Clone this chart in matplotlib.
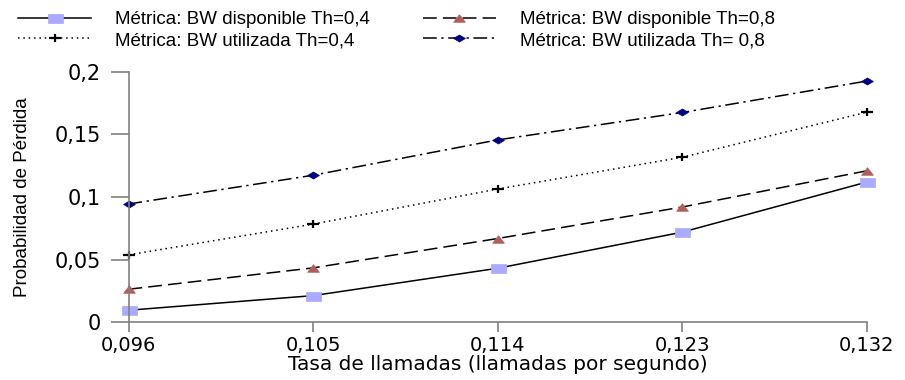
import matplotlib
matplotlib.use('Agg')
import matplotlib.pyplot as plt
from matplotlib.path import Path
from matplotlib import font_manager

# data
tasa = [0.096, 0.105, 0.114, 0.123, 0.132]
tasa_labels = ['0,096', '0,105', '0,114', '0,123', '0,132']
y_ticks = [0, 0.05, 0.1, 0.15, 0.2]
y_labels = ['0', '0,05', '0,1', '0,15', '0,2']

disp_04 = [0.0094, 0.0211, 0.0430, 0.0719, 0.1120]
disp_08 = [0.0262, 0.0433, 0.0668, 0.0920, 0.1210]
util_04 = [0.0537, 0.0783, 0.1064, 0.1318, 0.1679]
util_08 = [0.0944, 0.1174, 0.1457, 0.1676, 0.1928]

names = ['Métrica: BW disponible Th=0,4', 'Métrica: BW utilizada Th=0,4',
         'Métrica: BW disponible Th=0,8', 'Métrica: BW utilizada Th= 0,8']

# wide (stretched) marker shapes like the original
rect = Path([(-0.5, -0.3), (0.5, -0.3), (0.5, 0.3), (-0.5, 0.3), (-0.5, -0.3)],
            [Path.MOVETO, Path.LINETO, Path.LINETO, Path.LINETO, Path.CLOSEPOLY])
tri = Path([(-0.5, -0.32), (0.5, -0.32), (0, 0.32), (-0.5, -0.32)],
           [Path.MOVETO, Path.LINETO, Path.LINETO, Path.CLOSEPOLY])
diam = Path([(-0.5, 0), (0, 0.3), (0.5, 0), (0, -0.3), (-0.5, 0)],
            [Path.MOVETO, Path.LINETO, Path.LINETO, Path.LINETO, Path.CLOSEPOLY])
plus = Path([(-0.5, 0), (0.5, 0), (0, -0.38), (0, 0.38)],
            [Path.MOVETO, Path.LINETO, Path.MOVETO, Path.LINETO])

try:
    font_manager.findfont('Liberation Sans Narrow', fallback_to_default=False)
    ylab_font, ylab_size = 'Liberation Sans Narrow', 16
except Exception:
    ylab_font, ylab_size = 'Liberation Sans', 13.5

fig = plt.figure(figsize=(9.05, 3.8), dpi=100)
fig.patch.set_facecolor('white')
ax = fig.add_axes([128.5/905, 58/380, 738.5/905, 250/380])

l1, = ax.plot(tasa, disp_04, color='black', lw=1.1, ls='-',
              marker=rect, ms=10.8, mfc='#AAAAFF', mec='#AAAAFF', mew=0.5, clip_on=False)
l3, = ax.plot(tasa, disp_08, color='black', lw=1.1, ls=(0, (9, 4)),
              marker=tri, ms=8.5, mfc='#B15D5A', mec='#B15D5A', mew=0.5, clip_on=False)
l2, = ax.plot(tasa, util_04, color='black', lw=1.1, ls=(0, (1, 2.5)),
              marker=plus, ms=8, mfc='none', mec='black', mew=1.6, clip_on=False)
l4, = ax.plot(tasa, util_08, color='black', lw=1.1, ls=(0, (9, 3, 1.5, 3)),
              marker=diam, ms=8.5, mfc='#000080', mec='#000080', mew=0.5, clip_on=False)

ax.set_xlim(tasa[0], tasa[-1])
ax.set_ylim(0, 0.2)
ax.set_xticks(tasa)
ax.set_xticklabels(tasa_labels, fontsize=14, family='DejaVu Sans')
ax.set_yticks(y_ticks)
ax.set_yticklabels(y_labels, fontsize=15, family='DejaVu Sans')

for s in ['top', 'right']:
    ax.spines[s].set_visible(False)
for s in ['left', 'bottom']:
    ax.spines[s].set_color('#808080')
    ax.spines[s].set_linewidth(1.2)
ax.tick_params(axis='x', direction='out', length=7, width=1.2, color='#808080', pad=3)
ax.tick_params(axis='y', direction='out', length=13, width=1.2, color='#808080', pad=7)

ax.set_xlabel('Tasa de llamadas (llamadas por segundo)', fontsize=14.5,
              family='DejaVu Sans', labelpad=0)
ax.set_ylabel('Probabilidad de Pérdida', fontsize=ylab_size, family=ylab_font, va='center')
ax.yaxis.set_label_coords(-0.1442, 0.5)

fig.legend([l1, l2, l3, l4], names, loc='upper left', bbox_to_anchor=(18/905, 1 - 11/380),
           ncol=2, frameon=False, borderpad=0, borderaxespad=0,
           handlelength=3.9, handletextpad=1.28, columnspacing=2.8, labelspacing=0.2,
           prop={'family': 'Liberation Sans', 'size': 13.5})

plt.savefig('out.png', dpi=100, facecolor='white')
